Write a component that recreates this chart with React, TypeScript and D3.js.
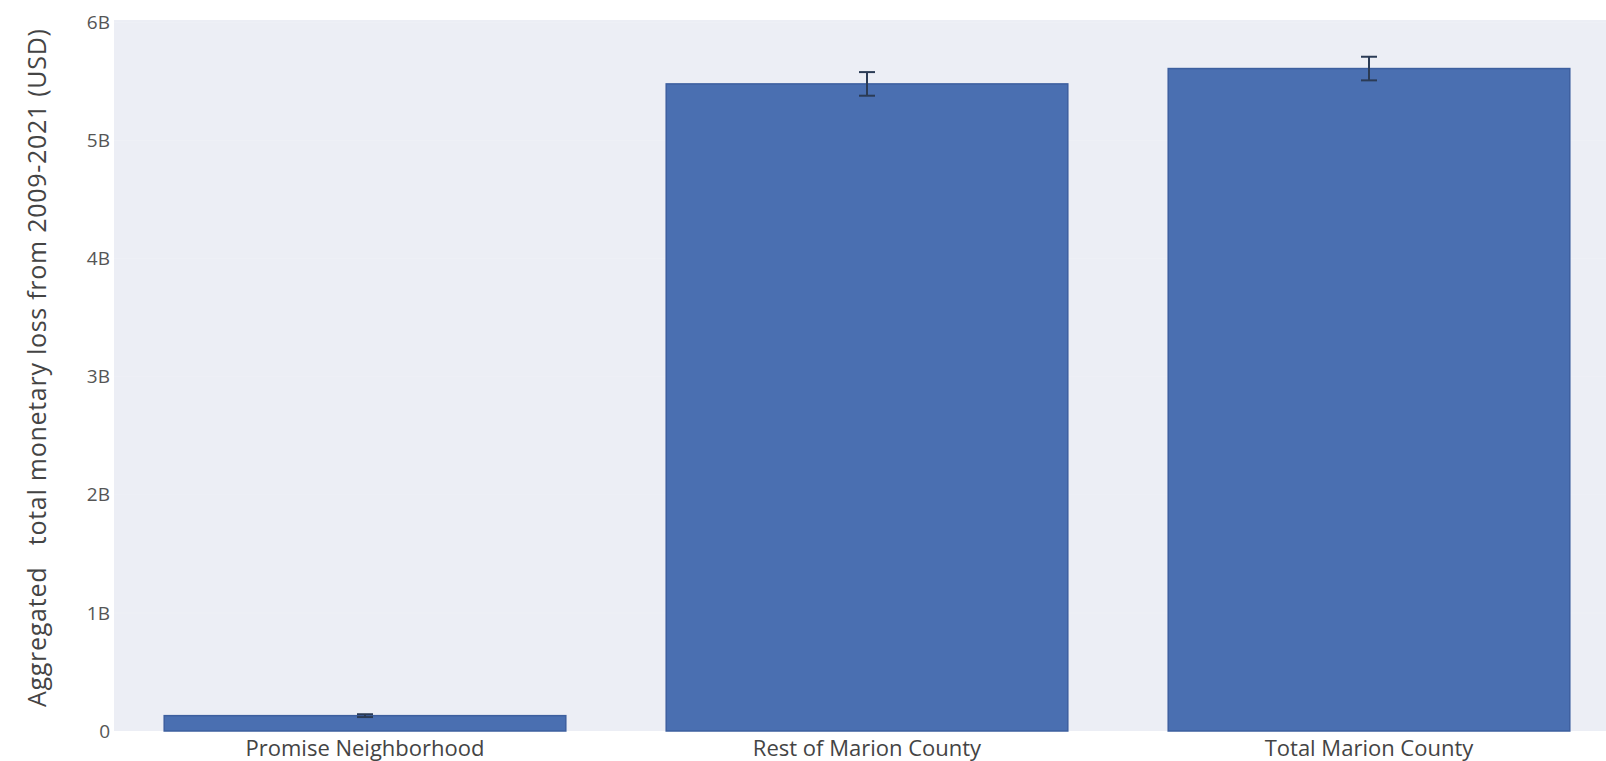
import React, { useEffect, useRef } from "react";
import * as d3 from "d3";

const categories = ["Promise Neighborhood", "Rest of Marion County", "Total Marion County"];
const lossValues = [0.13e9, 5.48e9, 5.61e9];
const lossErrors = [0.012e9, 0.1e9, 0.1e9];
const yTicks = [0, 1e9, 2e9, 3e9, 4e9, 5e9, 6e9];
const yTickLabels = ["0", "1B", "2B", "3B", "4B", "5B", "6B"];

function App() {
  const svgRef = useRef<SVGSVGElement>(null);

  useEffect(() => {
    const width = 1606;
    const height = 761;
    const font = "'Open Sans', 'Noto Sans', sans-serif";

    const svg = d3.select(svgRef.current).attr("width", width).attr("height", height);
    svg.selectAll("*").remove();

    const plotLeft = 114;
    const plotRight = 1620;
    const plotTop = 20;
    const plotBottom = 731;

    const x = d3.scaleBand().domain(categories).range([plotLeft, plotRight]).paddingInner(0.2).paddingOuter(0.1);
    const y = d3.scaleLinear().domain([0, 6e9]).range([plotBottom, 22.5]);

    // plot background
    svg
      .append("rect")
      .attr("x", plotLeft)
      .attr("y", plotTop)
      .attr("width", plotRight - plotLeft)
      .attr("height", plotBottom - plotTop)
      .attr("fill", "#eceef5");

    // gridlines, barely visible in the original
    svg
      .append("g")
      .selectAll("line")
      .data(yTicks.slice(1))
      .enter()
      .append("line")
      .attr("x1", plotLeft)
      .attr("x2", plotRight)
      .attr("y1", (d) => y(d))
      .attr("y2", (d) => y(d))
      .attr("stroke", "#ffffff")
      .attr("stroke-opacity", 0.15);

    const data = categories.map((c, i) => ({ label: c, value: lossValues[i], err: lossErrors[i] }));

    // bars
    svg
      .append("g")
      .selectAll("rect")
      .data(data)
      .enter()
      .append("rect")
      .attr("x", (d) => x(d.label)!)
      .attr("y", (d) => y(d.value))
      .attr("width", x.bandwidth())
      .attr("height", (d) => plotBottom - y(d.value))
      .attr("fill", "#4a6fb1")
      .attr("stroke", "#3d5f9f")
      .attr("stroke-width", 1.5);

    // error bars
    const eb = svg.append("g").attr("stroke", "#2b3b55").attr("stroke-width", 2);
    data.forEach((d) => {
      const cx = x(d.label)! + x.bandwidth() / 2;
      eb.append("line")
        .attr("x1", cx)
        .attr("x2", cx)
        .attr("y1", y(d.value + d.err))
        .attr("y2", y(d.value - d.err));
      [d.value + d.err, d.value - d.err].forEach((v) => {
        eb.append("line")
          .attr("x1", cx - 8)
          .attr("x2", cx + 8)
          .attr("y1", y(v))
          .attr("y2", y(v));
      });
    });

    // y tick labels
    svg
      .append("g")
      .selectAll("text")
      .data(yTicks)
      .enter()
      .append("text")
      .attr("x", 110)
      .attr("y", (d) => y(d))
      .attr("dy", "0.35em")
      .attr("text-anchor", "end")
      .attr("font-family", font)
      .attr("font-size", 19)
      .attr("fill", "#555")
      .text((d, i) => yTickLabels[i]);

    // x tick labels
    svg
      .append("g")
      .selectAll("text")
      .data(categories)
      .enter()
      .append("text")
      .attr("x", (d) => x(d)! + x.bandwidth() / 2)
      .attr("y", 748)
      .attr("dy", "0.35em")
      .attr("text-anchor", "middle")
      .attr("font-family", font)
      .attr("font-size", 22)
      .attr("fill", "#444")
      .text((d) => d);

    // y axis title
    svg
      .append("text")
      .attr("transform", `translate(37,707) rotate(-90)`)
      .attr("dy", "0.35em")
      .attr("text-anchor", "start")
      .attr("font-family", font)
      .attr("font-size", 25)
      .attr("fill", "#444")
      .attr("textLength", 678)
      .attr("lengthAdjust", "spacing")
      .attr("xml:space", "preserve")
      .style("white-space", "pre")
      .text("Aggregated   total monetary loss from 2009-2021 (USD)");
  }, []);

  return (
    <div style={{ position: "absolute", left: 0, top: 0 }}>
      <svg ref={svgRef} style={{ display: "block" }}></svg>
    </div>
  );
}

export default App;
